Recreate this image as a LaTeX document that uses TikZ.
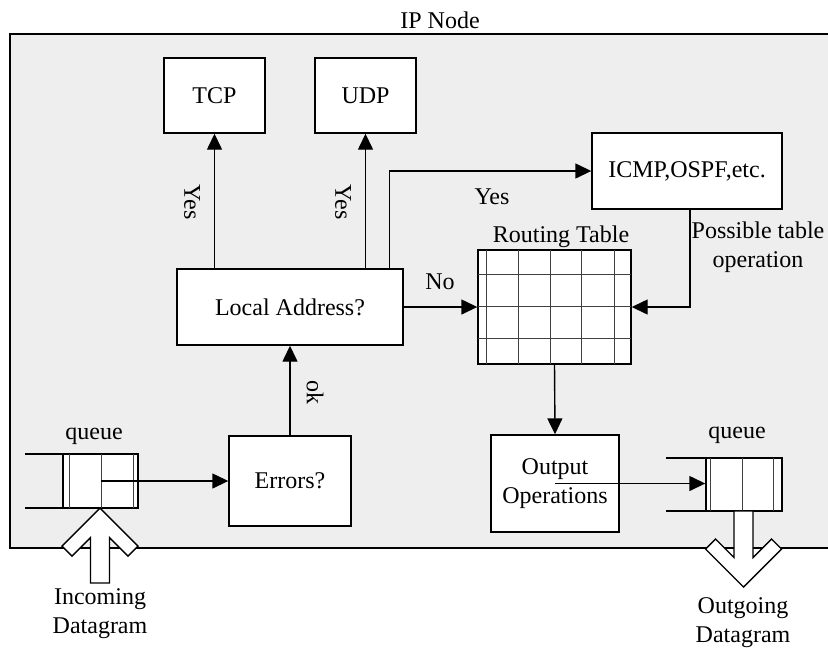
\documentclass[tikz,border=0pt]{standalone}
\usepackage{fontspec}
\setmainfont{Liberation Serif}
\usetikzlibrary{arrows.meta}
\definecolor{bg}{HTML}{EEEEEE}
\begin{document}
\begin{tikzpicture}[x=0.5pt,y=-0.5pt,
  font=\fontsize{12}{14.5}\selectfont,
  line width=0.7pt,
  box/.style={draw, fill=white, inner sep=0pt, align=center},
  arr/.style={-{Triangle[length=8pt,width=7.5pt]}},
  lbl/.style={inner sep=1pt, align=center},
  thinline/.style={line width=0.5pt, draw=black!75}]
\useasboundingbox (0,0) rectangle (828,649);
\clip (0,0) rectangle (828,649);
% outer IP node area
\path[fill=bg, draw=black] (10,34) rectangle (860,548);
\node[lbl] (ipnode) at (440,20) {IP Node};
% boxes
\node[box, minimum width=50.5pt, minimum height=37.5pt] (tcp) at (214.5,95.5) {TCP};
\node[box, minimum width=50.5pt, minimum height=37.5pt] (udp) at (365.5,95.5) {UDP};
\node[box, minimum width=95pt, minimum height=38pt] (icmp) at (687,171) {ICMP,OSPF,etc.};
\node[box, minimum width=113pt, minimum height=38pt] (local) at (290,307) {Local Address?};
\node[box, minimum width=61pt, minimum height=45pt] (errors) at (290,481) {Errors?};
\node[box, minimum width=64pt, minimum height=48.5pt] (output) at (555,483.5) {Output\\Operations};
% routing table
\node[box, minimum width=76.5pt, minimum height=57pt] (rt) at (554.5,307) {};
\foreach \x in {486,518,550,581,614} \draw[thinline] (\x,250) -- (\x,364);
\foreach \y in {274,306,338} \draw[thinline] (478,\y) -- (631,\y);
\node[lbl] (rtlabel) at (561,237) {Routing Table};
% left queue
\draw (25,454) -- (63,454);
\draw (25,508) -- (63,508);
\node[box, minimum width=37.5pt, minimum height=27pt] (lq) at (100.5,481) {};
\foreach \x in {69,101,133} \draw[thinline] (\x,454) -- (\x,508);
\node[lbl] (lqlabel) at (94,436) {queue};
% right queue
\draw (666,458) -- (706,458);
\draw (666,511) -- (706,511);
\node[box, minimum width=38pt, minimum height=26.5pt] (rq) at (744,484.5) {};
\foreach \x in {710,742,773} \draw[thinline] (\x,458) -- (\x,511);
\node[lbl] (rqlabel) at (737,435) {queue};
% connectors
\draw[arr] (tcp.south |- local.north) -- (tcp.south);
\draw[arr] (udp.south |- local.north) -- (udp.south);
\draw[arr] ([xshift=-7pt]local.north east) |- (icmp.west);
\draw[arr] (local.east) -- (rt.west);
\draw[arr] ([xshift=1.5pt]icmp.south) |- (rt.east);
\draw[arr] (errors.north) -- (local.south);
\draw[arr] (lq.center) -- (errors.west);
\draw[arr] (rt.south) -- (output.north);
\draw[arr] (output.center) -- (output.center -| rq.west);
% labels
\node[lbl, rotate=-90] (yes1) at (192,202) {Yes};
\node[lbl, rotate=-90] (yes2) at (343,202) {Yes};
\node[lbl] (yes3) at (492,197) {Yes};
\node[lbl] (no) at (440,282) {No};
\node[lbl, rotate=-90] (ok) at (315,392) {ok};
\node[lbl] (possible) at (758,247) {Possible table\\operation};
% incoming big arrow
\draw[fill=white] (100,508) -- (62,546) -- (72,556) -- (90.5,537.5) -- (90.5,583)
  -- (109.5,583) -- (109.5,537.5) -- (128,556) -- (138,546) -- cycle;
\node[lbl] (incoming) at (100,614) {Incoming\\Datagram};
% outgoing big arrow
\draw[fill=white] (734,511) -- (734,557.5) -- (715.5,539) -- (705.5,549) -- (743.5,587)
  -- (781.5,549) -- (771.5,539) -- (753,557.5) -- (753,511) -- cycle;
\node[lbl] (outgoing) at (743,623) {Outgoing\\Datagram};
\end{tikzpicture}
\end{document}
